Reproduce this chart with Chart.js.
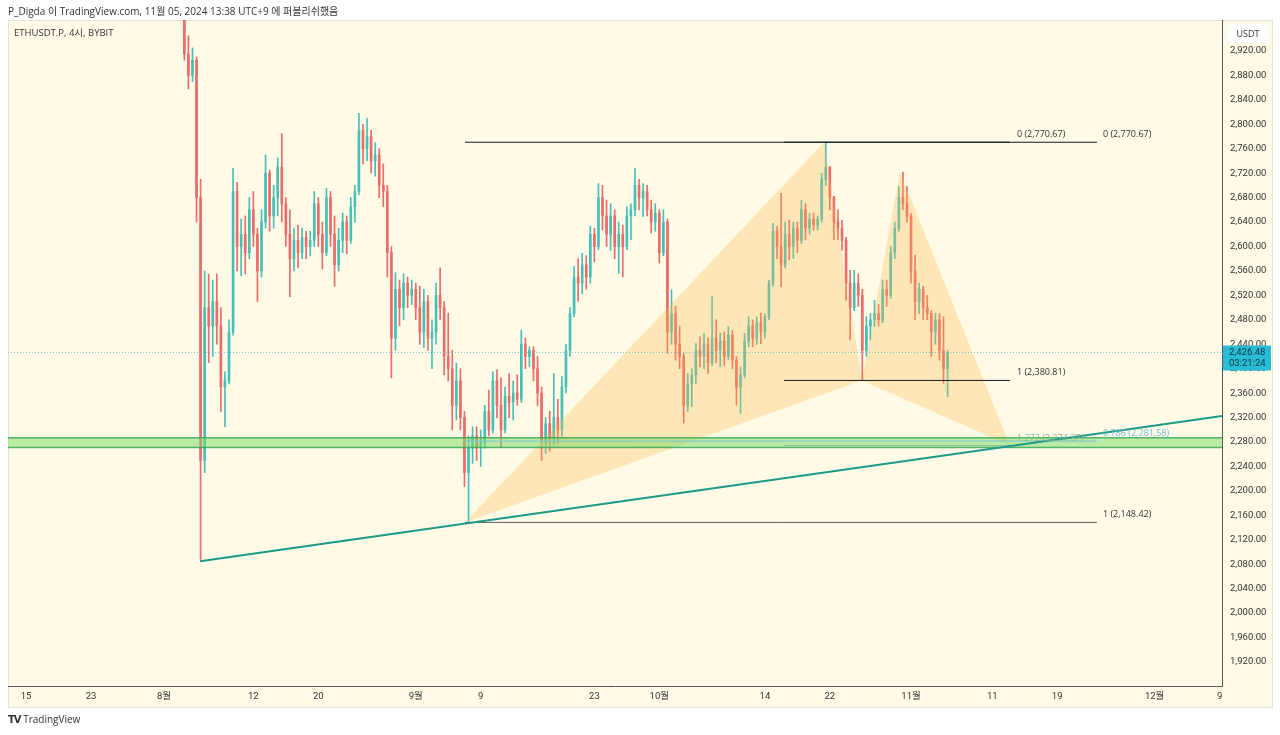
<!DOCTYPE html>
<html>
<head>
<meta charset="utf-8">
<script src="https://cdn.jsdelivr.net/npm/chart.js@4.4.1/dist/chart.umd.min.js"></script>
<style>
  body { margin: 0; background: #fff; width: 1280px; height: 735px; overflow: hidden; position: relative; font-family: 'Open Sans', 'Noto Sans CJK KR', sans-serif; }
  #wrap { position: absolute; left: 0; top: 0; width: 1280px; height: 735px; }
  .txt { position: absolute; color: #333; white-space: nowrap; }
</style>
</head>
<body>
<div id="wrap"><canvas id="chart" width="1280" height="735"></canvas></div>
<div class="txt" style="left:8px;top:3px;font-size:10px">P_Digda 이 TradingView.com, 11월 05, 2024 13:38 UTC+9 에 퍼블리쉬했음</div>
<div class="txt" style="left:14px;top:25px;font-size:9.5px">ETHUSDT.P, 4시, BYBIT</div>
<div class="txt" style="left:8px;top:712px;font-size:10px"><b style="font-family:'DejaVu Sans';font-size:10px;letter-spacing:-1px">TV</b> TradingView</div>
<script>
// ETHUSDT.P 12h candles (day 0 = Jul 15)
const firstDay = 19.5;
const dayStep = 0.5;
const openPrices = [2985,2915,2880,2905,2680,2250,2500,2470,2510,2470,2370,2380,2460,2690,2600,2620,2590,2660,2620,2560,
  2640,2720,2650,2680,2730,2670,2620,2580,2610,2590,2615,2600,2610,2670,2620,2590,2680,2620,2570,2610,
  2640,2610,2665,2690,2790,2760,2780,2740,2750,2700,2690,2590,2450,2530,2500,2540,2520,2530,2500,2460,
  2510,2450,2460,2520,2500,2420,2400,2340,2380,2320,2230,2270,2290,2270,2280,2330,2300,2380,2340,2300,
  2355,2345,2360,2350,2440,2420,2430,2400,2360,2280,2310,2285,2320,2300,2370,2430,2490,2550,2540,2570,
  2550,2620,2600,2680,2650,2620,2650,2600,2620,2600,2650,2660,2700,2680,2690,2660,2640,2655,2590,2640,
  2460,2490,2440,2420,2340,2375,2390,2430,2420,2440,2410,2450,2430,2445,2420,2455,2414,2370,2390,2445,
  2470,2450,2475,2460,2485,2540,2625,2600,2570,2620,2600,2630,2610,2660,2630,2645,2635,2645,2710,2730,
  2680,2640,2630,2610,2540,2500,2540,2520,2430,2470,2480,2490,2480,2530,2520,2590,2630,2680,2670,2650,
  2560,2510,2530,2500,2490,2460,2480,2430,2400];
const highPrices = [2990,2945,2925,2910,2710,2560,2555,2545,2555,2500,2395,2480,2728,2705,2645,2650,2680,2690,2630,2660,
  2750,2725,2700,2745,2785,2680,2660,2630,2635,2630,2625,2625,2690,2680,2640,2695,2690,2650,2630,2655,
  2650,2680,2700,2818,2800,2810,2790,2770,2760,2735,2700,2600,2557,2545,2555,2550,2545,2540,2535,2530,
  2520,2480,2540,2565,2510,2491,2430,2409,2400,2330,2290,2305,2305,2300,2340,2365,2395,2398,2385,2370,
  2392,2380,2390,2463,2450,2436,2436,2420,2370,2320,2330,2392,2350,2387,2440,2500,2567,2580,2589,2585,
  2633,2630,2703,2700,2676,2670,2660,2640,2635,2665,2670,2728,2710,2703,2700,2676,2670,2660,2660,2645,
  2529,2502,2470,2425,2392,2400,2441,2452,2458,2450,2518,2480,2458,2460,2469,2463,2420,2403,2458,2485,
  2480,2485,2491,2490,2545,2638,2633,2687,2640,2643,2640,2640,2676,2670,2654,2655,2650,2720,2771,2731,
  2682,2660,2643,2615,2561,2561,2555,2530,2485,2490,2512,2505,2545,2545,2600,2640,2698,2722,2698,2654,
  2586,2540,2535,2520,2495,2491,2490,2485,2430];
const lowPrices = [2905,2858,2870,2640,2088,2230,2410,2420,2440,2330,2305,2375,2455,2560,2552,2555,2580,2600,2510,2550,
  2630,2625,2630,2650,2640,2600,2518,2560,2565,2580,2580,2585,2600,2600,2563,2585,2600,2535,2560,2590,
  2588,2605,2640,2685,2735,2740,2720,2715,2680,2665,2550,2385,2430,2470,2480,2500,2505,2480,2440,2435,
  2430,2400,2440,2480,2390,2380,2300,2316,2300,2207,2148,2245,2250,2240,2270,2290,2295,2320,2272,2295,
  2320,2316,2340,2345,2400,2403,2380,2340,2250,2261,2265,2275,2278,2289,2360,2420,2485,2510,2523,2530,
  2540,2575,2595,2627,2600,2594,2580,2556,2550,2595,2611,2650,2660,2649,2650,2622,2625,2573,2585,2425,
  2440,2414,2400,2311,2330,2338,2376,2403,2400,2392,2405,2410,2403,2405,2415,2400,2340,2327,2385,2436,
  2436,2440,2441,2450,2480,2535,2580,2534,2565,2578,2580,2590,2605,2611,2620,2627,2627,2640,2700,2660,
  2611,2611,2594,2512,2447,2495,2502,2381,2420,2447,2469,2470,2475,2502,2515,2580,2625,2660,2640,2540,
  2480,2490,2480,2480,2420,2440,2414,2376,2354];
const closePrices = [2915,2880,2905,2680,2250,2500,2470,2510,2470,2370,2380,2460,2690,2600,2620,2590,2660,2620,2560,2640,
  2720,2650,2680,2730,2670,2620,2580,2610,2590,2615,2600,2610,2670,2620,2590,2680,2620,2570,2610,2640,
  2610,2665,2690,2790,2760,2780,2740,2750,2700,2690,2590,2450,2530,2500,2540,2520,2530,2500,2460,2510,
  2450,2460,2520,2500,2420,2400,2340,2380,2320,2230,2270,2290,2270,2280,2330,2300,2380,2340,2300,2355,
  2345,2360,2350,2440,2420,2430,2400,2360,2280,2310,2285,2320,2300,2370,2430,2490,2550,2540,2570,2550,
  2620,2600,2680,2650,2620,2650,2600,2620,2600,2650,2660,2700,2680,2690,2660,2640,2655,2590,2640,2460,
  2490,2440,2420,2340,2375,2390,2430,2420,2440,2410,2450,2430,2445,2420,2455,2414,2370,2390,2445,2470,
  2450,2475,2460,2485,2540,2625,2600,2570,2620,2600,2630,2610,2660,2630,2645,2635,2645,2710,2730,2680,
  2640,2630,2610,2540,2500,2540,2520,2430,2470,2480,2490,2480,2530,2520,2590,2630,2680,2670,2650,2560,
  2510,2530,2500,2490,2460,2480,2430,2400,2426.48];
const lastPrice = 2426.48;
const countdown = '03:21:24';

// axis
const xTickDays = [0, 8, 17, 28, 36, 48, 56, 70, 78, 91, 99, 109, 119, 127, 139, 147];
const xTickLabels = ['15', '23', '8월', '12', '20', '9월', '9', '23', '10월', '14', '22', '11월', '11', '19', '12월', '9'];
const yTicks = [1920, 1960, 2000, 2040, 2080, 2120, 2160, 2200, 2240, 2280, 2320, 2360, 2400, 2440, 2480,
  2520, 2560, 2600, 2640, 2680, 2720, 2760, 2800, 2840, 2880, 2920];

// drawings: XABCD pattern, fib levels, support band, trend line
const patternDays = [54.06, 98.28, 102.96, 107.64, 121.18];
const patternPrices = [2148.42, 2770.67, 2380.81, 2722, 2274.37];
const fibOneRange = [54.06, 131.9];
const fibOneLevels = [0, 0.786, 1];
const fibOnePrices = [2770.67, 2281.58, 2148.42];
const fibTwoRange = [93.35, 121.18];
const fibTwoLevels = [0, 1, 1.272];
const fibTwoPrices = [2770.67, 2380.81, 2274.37];
const bandPrices = [2271, 2287];
const trendDays = [21.43, 147.3];
const trendPrices = [2085, 2322.6];

const xMin = -2.22, xMax = 147.3;
const yMin = 1880.7, yMax = 2970.7;

const upColor = '#45c0b8';
const downColor = '#ec6b6b';
const days = openPrices.map((_, i) => firstDay + i * dayStep);
const candleColors = closePrices.map((c, i) => c >= openPrices[i] ? upColor : downColor);

function fmt(v) {
  return v.toLocaleString('en-US', { minimumFractionDigits: 2, maximumFractionDigits: 2 });
}

function levelLine(range, price, color, width) {
  return {
    type: 'line',
    data: [{ x: range[0], y: price }, { x: range[1], y: price }],
    borderColor: color,
    borderWidth: width,
    pointRadius: 0,
    fill: false,
    order: 1
  };
}

const fibOneColors = ['#131722', '#7cc6d8', '#5d5d5d'];
const fibTwoColors = ['#131722', '#131722', '#8cc49a'];
const fibOneText = ['#333', '#6fbfd3', '#333'];
const fibTwoText = ['#333', '#333', '#8ab896'];

const overlay = {
  id: 'overlay',
  beforeDraw(chart) {
    const ctx = chart.ctx;
    ctx.save();
    ctx.fillStyle = '#fffbe6';
    ctx.fillRect(8, 20, 1265, 687);
    ctx.strokeStyle = '#e6e3d3';
    ctx.lineWidth = 1;
    ctx.strokeRect(8.5, 20.5, 1264, 687);
    ctx.restore();
  },
  afterDatasetDraw(chart, args) {
    if (args.index !== 1) return;
    const ctx = chart.ctx;
    const xs = chart.scales.x, ys = chart.scales.y;
    const area = chart.chartArea;
    ctx.save();
    ctx.beginPath();
    ctx.rect(area.left, area.top, area.right - area.left, area.bottom - area.top);
    ctx.clip();
    // pattern triangles XAB and BCD
    ctx.fillStyle = 'rgba(255,183,77,0.30)';
    [[0, 1, 2], [2, 3, 4]].forEach(tri => {
      ctx.beginPath();
      tri.forEach((k, n) => {
        const px = xs.getPixelForValue(patternDays[k]);
        const py = ys.getPixelForValue(patternPrices[k]);
        if (n === 0) ctx.moveTo(px, py); else ctx.lineTo(px, py);
      });
      ctx.closePath();
      ctx.fill();
    });
    // support band
    const yTop = ys.getPixelForValue(bandPrices[1]);
    const yBot = ys.getPixelForValue(bandPrices[0]);
    ctx.fillStyle = 'rgba(120,218,100,0.50)';
    ctx.fillRect(area.left, yTop, area.right - area.left, yBot - yTop);
    ctx.strokeStyle = 'rgba(56,168,88,0.85)';
    ctx.lineWidth = 1.5;
    ctx.beginPath();
    ctx.moveTo(area.left, yTop); ctx.lineTo(area.right, yTop);
    ctx.moveTo(area.left, yBot); ctx.lineTo(area.right, yBot);
    ctx.stroke();
    ctx.restore();
  },
  afterDraw(chart) {
    const ctx = chart.ctx;
    const xs = chart.scales.x, ys = chart.scales.y;
    ctx.save();
    ctx.font = "9px 'Open Sans'";
    ctx.textAlign = 'left';
    ctx.textBaseline = 'bottom';
    const x1 = xs.getPixelForValue(fibOneRange[1]) + 6;
    fibOneLevels.forEach((lv, i) => {
      ctx.fillStyle = fibOneText[i];
      ctx.fillText(lv + ' (' + fmt(fibOnePrices[i]) + ')', x1, ys.getPixelForValue(fibOnePrices[i]) - 3);
    });
    const x2 = xs.getPixelForValue(fibTwoRange[1]) + 7;
    fibTwoLevels.forEach((lv, i) => {
      ctx.fillStyle = fibTwoText[i];
      ctx.fillText(lv + ' (' + fmt(fibTwoPrices[i]) + ')', x2, ys.getPixelForValue(fibTwoPrices[i]) - 3);
    });

    // USDT box
    ctx.fillStyle = '#ffffff';
    ctx.beginPath();
    ctx.roundRect(1228, 24, 40, 19, 3);
    ctx.fill();
    ctx.fillStyle = '#333';
    ctx.font = "9px 'Open Sans'";
    ctx.textAlign = 'center';
    ctx.textBaseline = 'middle';
    ctx.fillText('USDT', 1248, 34);

    // last price label
    const py = ys.getPixelForValue(lastPrice);
    const bx = chart.chartArea.right + 1;
    ctx.fillStyle = '#29bcd6';
    ctx.fillRect(bx, py - 7, 48, 25);
    ctx.fillStyle = '#10343c';
    ctx.font = "9.5px Roboto";
    ctx.textAlign = 'left';
    ctx.fillText(fmt(lastPrice), bx + 6, py + 0.5);
    ctx.fillText(countdown, bx + 6, py + 11.5);
    ctx.restore();
  }
};

const datasets = [
  {
    type: 'bar',
    label: 'wick',
    data: days.map((d, i) => ({ x: d, y: [lowPrices[i], highPrices[i]] })),
    backgroundColor: candleColors,
    barThickness: 1,
    grouped: false,
    order: 4
  },
  {
    type: 'bar',
    label: 'body',
    data: days.map((d, i) => ({ x: d, y: [openPrices[i], closePrices[i]] })),
    backgroundColor: candleColors,
    barThickness: 2,
    minBarLength: 1,
    grouped: false,
    order: 3
  },
  {
    type: 'line',
    data: [{ x: xMin, y: lastPrice }, { x: xMax, y: lastPrice }],
    borderColor: 'rgba(80,190,195,0.8)',
    borderWidth: 1,
    borderDash: [1, 2],
    pointRadius: 0,
    order: 2
  }
];
fibOnePrices.forEach((p, i) => datasets.push(levelLine(fibOneRange, p, fibOneColors[i], 1)));
fibTwoPrices.forEach((p, i) => datasets.push(levelLine(fibTwoRange, p, fibTwoColors[i], 1)));
datasets.push({
  type: 'line',
  data: [{ x: trendDays[0], y: trendPrices[0] }, { x: trendDays[1], y: trendPrices[1] }],
  borderColor: '#1c9b88',
  borderWidth: 2,
  pointRadius: 0,
  order: 0
});

const tickFont = { family: "Roboto, 'Noto Sans CJK KR'", size: 9.5 };

new Chart(document.getElementById('chart'), {
  type: 'bar',
  data: { datasets: datasets },
  options: {
    responsive: false,
    animation: false,
    layout: { padding: { left: 8, top: 20, right: 8, bottom: 28 } },
    plugins: { legend: { display: false }, tooltip: { enabled: false } },
    scales: {
      x: {
        type: 'linear',
        min: xMin,
        max: xMax,
        offset: false,
        grid: { display: false, drawTicks: false, tickLength: 0 },
        border: { display: true, color: '#5a5a5a' },
        afterBuildTicks: s => { s.ticks = xTickDays.map(v => ({ value: v })); },
        afterFit: s => { s.height = 21; },
        ticks: {
          autoSkip: false,
          maxRotation: 0,
          padding: 5,
          color: '#333',
          font: tickFont,
          callback: (v, i) => xTickLabels[i]
        }
      },
      y: {
        type: 'linear',
        position: 'right',
        min: yMin,
        max: yMax,
        grid: { display: false, drawTicks: false, tickLength: 0 },
        border: { display: true, color: '#5a5a5a' },
        afterBuildTicks: s => { s.ticks = yTicks.map(v => ({ value: v })); },
        afterFit: s => { s.width = 50; },
        ticks: {
          padding: 8,
          color: '#333',
          font: tickFont,
          callback: v => fmt(v)
        }
      }
    }
  },
  plugins: [overlay]
});
</script>
</body>
</html>
